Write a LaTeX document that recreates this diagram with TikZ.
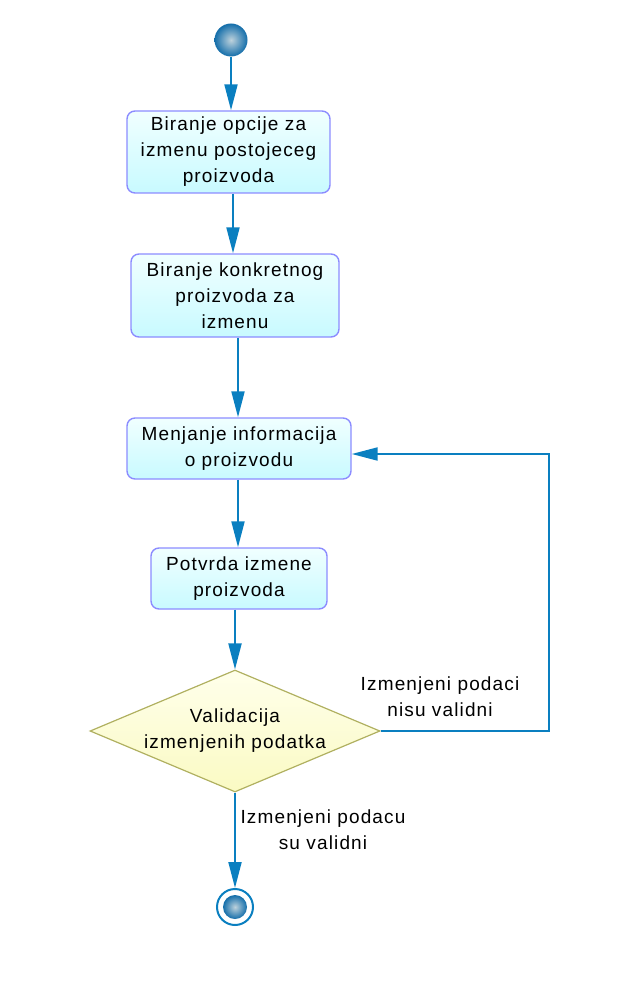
\documentclass[tikz,border=0pt]{standalone}
\usepackage{fontspec}
\setmainfont{Liberation Sans}[LetterSpace=6]
\usetikzlibrary{shapes.geometric,arrows.meta,calc}
\definecolor{flow}{RGB}{10,127,192}
\definecolor{boxborder}{RGB}{140,140,255}
\definecolor{boxtop}{RGB}{240,255,255}
\definecolor{boxbot}{RGB}{200,250,255}
\definecolor{diaborder}{RGB}{176,176,96}
\definecolor{diatop}{RGB}{255,255,235}
\definecolor{diabot}{RGB}{250,250,195}
\definecolor{dotouter}{RGB}{20,110,170}
\definecolor{dotinner}{RGB}{190,210,220}
\tikzset{
  actbox/.style={draw=boxborder, line width=1.4pt, rounded corners=8pt,
    top color=boxtop, bottom color=boxbot, align=center, inner sep=0pt,
    font=\fontsize{19}{26}\selectfont},
  decbox/.style={diamond, draw=diaborder, line width=1.2pt, top color=diatop, bottom color=diabot,
    align=center, inner sep=0pt, minimum width=290pt, minimum height=122pt, aspect=2.38,
    font=\fontsize{19}{26}\selectfont},
  arr/.style={draw=flow, line width=2pt, -{Triangle[length=26pt,width=13pt]}},
  lbl/.style={align=center, font=\fontsize{19}{26}\selectfont, inner sep=0pt},
  dot/.style={circle, inner sep=0pt, minimum size=#1, inner color=dotinner, outer color=dotouter}
}
\begin{document}
\begin{tikzpicture}[x=1pt,y=-1pt]
\useasboundingbox (0,0) rectangle (628,984);
\node[dot=33pt] (start) at (231,40) {};
\node[actbox, minimum width=203pt, minimum height=82pt] (b1) at (228.5,152) {Biranje opcije za\\izmenu postojeceg\\proizvoda};
\node[actbox, minimum width=208pt, minimum height=83pt] (b2) at (235,295.5) {Biranje konkretnog\\proizvoda za\\izmenu};
\node[actbox, minimum width=224pt, minimum height=61pt] (b3) at (239,448.5) {Menjanje informacija\\o proizvodu};
\node[actbox, minimum width=176pt, minimum height=61pt] (b4) at (239,578.5) {Potvrda izmene\\proizvoda};
\node[decbox] (d) at (235,731) {Validacija\\izmenjenih podatka};
\node[circle, draw=flow, line width=2pt, minimum size=36pt, inner sep=0pt] (endo) at (235,907) {};
\node[dot=24pt] (endi) at (235,907) {};
\node[lbl] (l1) at (440,697) {Izmenjeni podaci\\nisu validni};
\node[lbl] (l2) at (323,830) {Izmenjeni podacu\\su validni};
\coordinate (lp) at (549,454);
\draw[arr] (start.south) -- (start.south |- b1.north);
\draw[arr] (b1.south -| 233,0) -- (b2.north -| 233,0);
\draw[arr] (b2.south -| 238,0) -- (b3.north -| 238,0);
\draw[arr] (b3.south -| 238,0) -- (b4.north -| 238,0);
\draw[arr] (b4.south -| 235,0) -- (d.north);
\draw[arr] (d.south) -- (endo.north);
\draw[arr] (d.east) -| (lp) -- (b3.east |- lp);
\end{tikzpicture}
\end{document}
